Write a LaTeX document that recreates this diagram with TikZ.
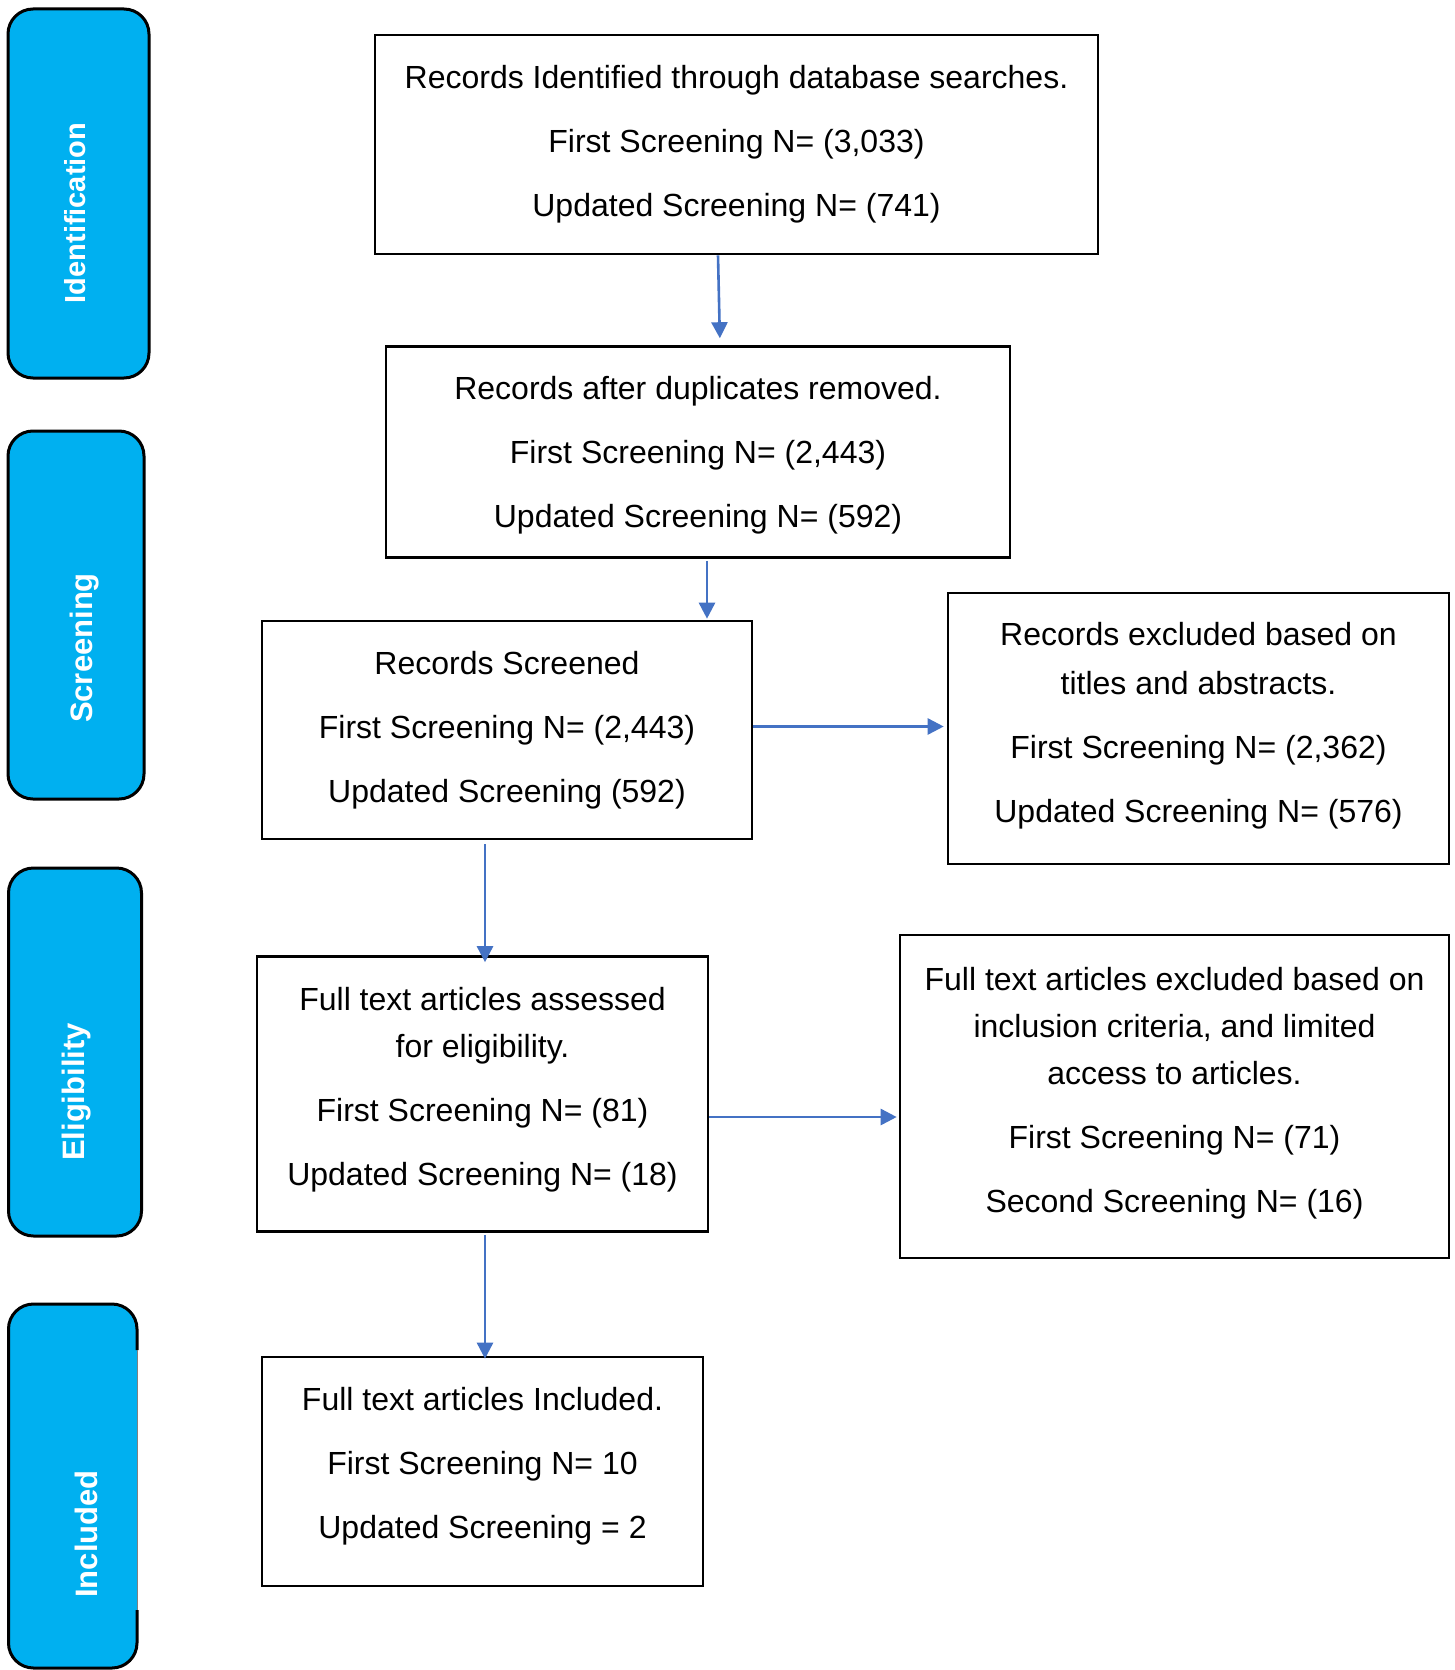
\documentclass[tikz,border=0pt]{standalone}
\usepackage{fontspec}
\setmainfont{Liberation Sans}
\usetikzlibrary{arrows.meta}
\definecolor{sideblue}{HTML}{00B0F0}
\definecolor{arrowblue}{HTML}{4472C4}
\begin{document}
\begin{tikzpicture}[x=1pt,y=-1pt,
  box/.style={draw=black, line width=2.6pt, inner sep=0pt, align=center,
    font=\fontsize{32}{64}\selectfont},
  side/.style={fill=sideblue, draw=black, line width=3pt, rounded corners=25pt, inner sep=0pt},
  sidelabel/.style={text=white, font=\bfseries\fontsize{31}{36}\selectfont, rotate=90, inner sep=0pt},
  arr/.style={draw=arrowblue, line width=2.6pt, -{Triangle[width=16pt,length=16pt]}}]
\useasboundingbox (0,0) rectangle (1455,1670);

% side phase boxes
\node[side, minimum width=141pt, minimum height=369pt] (sid) at (78.5,193.5) {};
\node[side, minimum width=136pt, minimum height=368pt] (ssc) at (76,615) {};
\node[side, minimum width=133pt, minimum height=368pt] (sel) at (75,1052) {};
\node[fill=sideblue, rounded corners=25pt, inner sep=0pt, minimum width=129pt, minimum height=364pt] (sin) at (73,1486) {};
\draw[black, line width=3pt, rounded corners=25pt]
  (137,1350) -- (137,1304) -- (8.5,1304) -- (8.5,1668) -- (137,1668) -- (137,1610);
\draw[gray, line width=0.8pt] (137,1350) -- (137,1610);

\node[sidelabel, font=\bfseries\fontsize{29}{34}\selectfont] (lid) at (75,213) {Identification};
\node[sidelabel] (lsc) at (85,648) {Screening};
\node[sidelabel] (lel) at (77,1092) {Eligibility};
\node[sidelabel] (lin) at (86,1534) {Included};

% main boxes
\node[box, minimum width=723pt, minimum height=219pt] (b1) at (736.5,144.5)
  {Records Identified through database searches.\\ First Screening N= (3,033)\\ Updated Screening N= (741)};
\node[box, minimum width=624pt, minimum height=211pt, text depth=0.8pt] (b2) at (698,452)
  {Records after duplicates removed.\\ First Screening N= (2,443)\\ Updated Screening N= (592)};
\node[box, minimum width=490pt, minimum height=218pt] (b3) at (507,730)
  {Records Screened\\ First Screening N= (2,443)\\ Updated Screening (592)};
\node[box, minimum width=501pt, minimum height=271pt, text depth=12.8pt] (b4) at (1198.5,728.5)
  {Records excluded based on\\[-15pt] titles and abstracts.\\ First Screening N= (2,362)\\ Updated Screening N= (576)};
\node[box, minimum width=451pt, minimum height=275pt, text depth=15.5pt] (b5) at (482.5,1094)
  {Full text articles assessed\\[-17pt] for eligibility.\\ First Screening N= (81)\\ Updated Screening N= (18)};
\node[box, minimum width=549pt, minimum height=323pt, text depth=14pt] (b6) at (1174.5,1096.5)
  {Full text articles excluded based on\\[-17pt] inclusion criteria, and limited\\[-17pt] access to articles.\\ First Screening N= (71)\\ Second Screening N= (16)};
\node[box, minimum width=441pt, minimum height=229pt, text depth=17pt] (b7) at (482.5,1471.5)
  {Full text articles Included.\\ First Screening N= 10\\ Updated Screening = 2};

% connectors
\draw[arr, shorten >=7pt] ([xshift=-18.5pt]b1.south) -- ([xshift=22pt]b2.north);
\coordinate (a2s) at ([xshift=9pt]b2.south);
\draw[arr, shorten <=2pt, shorten >=1pt] (a2s) -- (a2s |- b3.north);
\coordinate (a3s) at ([yshift=3.5pt]b3.east);
\draw[arr, shorten >=3pt] (a3s) -- (a3s -| b4.west);
\coordinate (a4s) at ([xshift=-22pt]b3.south);
\draw[arr, shorten <=4pt, shorten >=-7pt] (a4s) -- (a4s |- b5.north);
\coordinate (a5s) at ([yshift=-23pt]b5.east);
\draw[arr, shorten >=2pt] (a5s) -- (a5s -| b6.west);
\coordinate (a6s) at ([xshift=2.5pt]b5.south);
\draw[arr, shorten <=2pt, shorten >=-3pt] (a6s) -- (a6s |- b7.north);
\end{tikzpicture}
\end{document}
